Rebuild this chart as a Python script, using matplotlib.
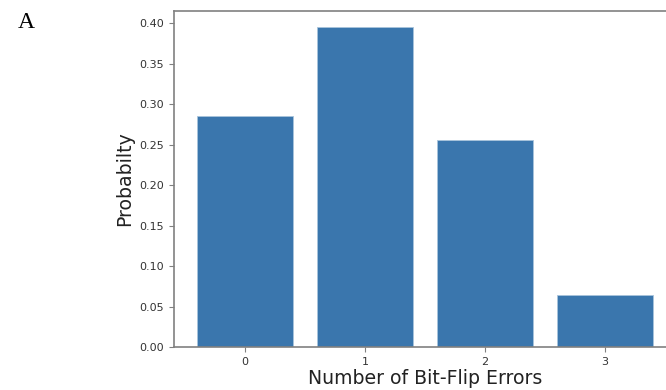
import matplotlib.pyplot as plt

errors = [0, 1, 2, 3]
probs = [0.285, 0.395, 0.256, 0.064]
yticks = [0.00, 0.05, 0.10, 0.15, 0.20, 0.25, 0.30, 0.35, 0.40]

fig = plt.figure(figsize=(6.66, 3.90), dpi=100)
# axes from x=174px to ~676px (cut off by the right edge), y from 11px to 347px
ax = fig.add_axes([174 / 666, 1 - 347 / 390, (676 - 174) / 666, (347 - 11) / 390])

ax.bar(errors, probs, width=0.8, color='#3a76ad', edgecolor='#a9c4dc', linewidth=0.6)
ax.set_xticks(errors)
ax.set_yticks(yticks, [f'{v:.2f}' for v in yticks])
ax.set_ylim(0, 0.415)
ax.set_xlim(-0.59, 3.59)

for s in ax.spines.values():
    s.set_color('#808080')
    s.set_linewidth(1.2)
ax.tick_params(colors='#333333', labelsize=8, length=3.5, width=0.8)
ax.tick_params(color='#808080')

ax.set_ylabel('Probabilty', fontsize=13.6, color='#222222')
ax.set_xlabel('Number of Bit-Flip Errors', fontsize=13.6, color='#222222', labelpad=2)

fig.text(18 / 666, 1 - 22 / 390, 'A', family='Liberation Serif', fontsize=17,
         va='center', ha='left')

fig.savefig('out.png', dpi=100)
